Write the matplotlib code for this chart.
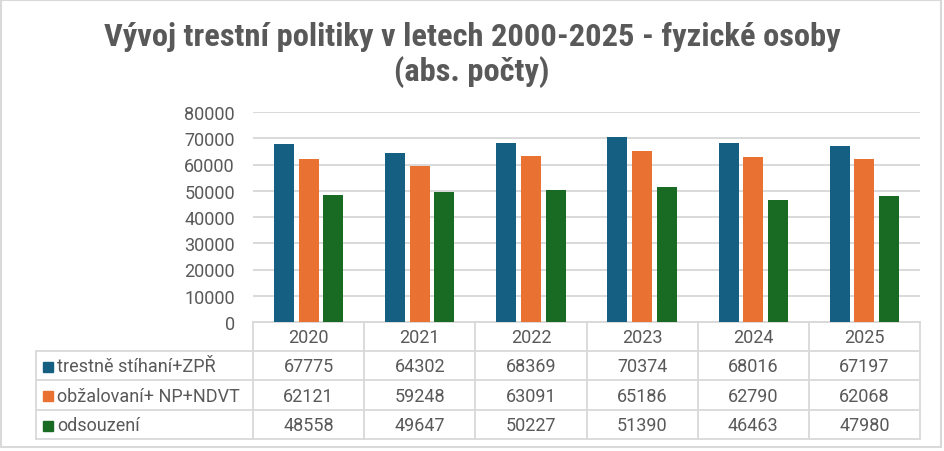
import numpy as np
import matplotlib.pyplot as plt
from matplotlib.patches import Rectangle

years = ['2020', '2021', '2022', '2023', '2024', '2025']
series_names = ['trestně stíhaní+ZPŘ', 'obžalovaní+ NP+NDVT', 'odsouzení']
stihani = [67775, 64302, 68369, 70374, 68016, 67197]
obzalovani = [62121, 59248, 63091, 65186, 62790, 62068]
odsouzeni = [48558, 49647, 50227, 51390, 46463, 47980]
series = [stihani, obzalovani, odsouzeni]
colors = ['#156082', '#E97132', '#196B24']

plt.rcParams['font.family'] = ['Roboto', 'DejaVu Sans']
txt = '#595959'
grid = '#D9D9D9'

W, H = 944, 452
fig = plt.figure(figsize=(W / 100, H / 100), dpi=100)

# plot area in pixel coords
left, right, top, bottom = 253, 920, 113, 323
ax = fig.add_axes([left / W, 1 - bottom / H, (right - left) / W, (bottom - top) / H])
x = np.arange(len(years))
for i, vals in enumerate(series):
    ax.bar(x + (i - 1) * 0.222, vals, 0.18, color=colors[i], zorder=3)
ax.set_xlim(-0.5, len(years) - 0.5)
ax.set_ylim(0, 80000)
ax.set_yticks(range(0, 80001, 10000))
ax.yaxis.grid(True, color=grid, lw=1.4)
ax.set_axisbelow(True)
for s in ['top', 'right', 'left']:
    ax.spines[s].set_visible(False)
ax.spines['bottom'].set_color(grid)
ax.spines['bottom'].set_linewidth(1.4)
ax.set_xticks([])
ax.tick_params(axis='y', length=0, labelsize=13, colors=txt, pad=13)

# overlay for the data table
ov = fig.add_axes([0, 0, 1, 1])
ov.set_xlim(0, W)
ov.set_ylim(H, 0)
ov.axis('off')

colw = (right - left) / len(years)
rows = [323, 352, 381, 411, 440]
lk = dict(color=grid, lw=1.3)
for y in rows[1:]:
    ov.plot([36, right], [y, y], **lk)
ov.plot([36, 36], [rows[1], rows[-1]], **lk)
for k in range(len(years) + 1):
    xx = left + k * colw
    ov.plot([xx, xx], [rows[0], rows[-1]], **lk)

for k, yr in enumerate(years):
    ov.text(left + (k + 0.5) * colw, (rows[0] + rows[1]) / 2 + 1, yr,
            ha='center', va='center', fontsize=13, color=txt)
for r, (name, vals) in enumerate(zip(series_names, series)):
    yc = (rows[r + 1] + rows[r + 2]) / 2 + 1
    ov.add_patch(Rectangle((43, yc - 5), 10, 10, color=colors[r]))
    ov.text(57, yc, name, ha='left', va='center', fontsize=13, color=txt)
    for k, v in enumerate(vals):
        ov.text(left + (k + 0.5) * colw, yc, str(v),
                ha='center', va='center', fontsize=13, color=txt)

# outer border
ov.add_patch(Rectangle((1, 1), 940, 447, fill=False, edgecolor=grid, lw=1.5))

tfont = ['Roboto Condensed', 'Roboto', 'DejaVu Sans']
fig.text(0.5, 1 - 37 / H, 'Vývoj trestní politiky v letech 2000-2025 - fyzické osoby',
         ha='center', va='center', fontsize=23.4, fontweight='bold', color=txt,
         family=tfont)
fig.text(0.5, 1 - 72 / H, '(abs. počty)',
         ha='center', va='center', fontsize=23.4, fontweight='bold', color=txt,
         family=tfont)

fig.savefig('out.png', dpi=100)
